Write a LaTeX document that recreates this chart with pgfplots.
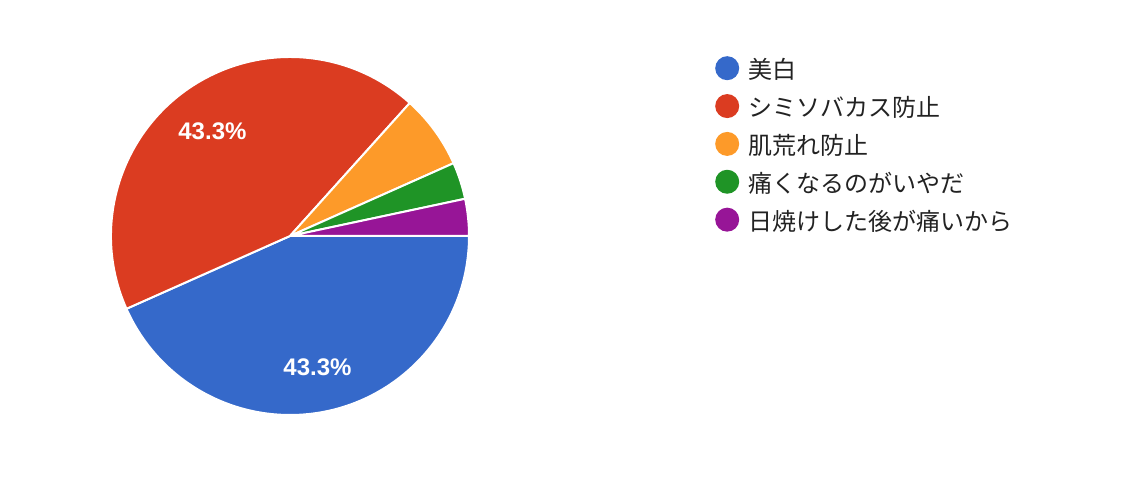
\documentclass[border=0pt]{standalone}
\usepackage{pgfplots}
\usepackage{pgfplotstable}
\pgfplotsset{compat=1.18}
\usetikzlibrary{calc}
\usepackage{fontspec}
\setmainfont{Liberation Sans}
\newfontfamily\jpfont{Noto Sans CJK JP}

\definecolor{pieblue}{HTML}{3569CA}
\definecolor{piered}{HTML}{DB3C21}
\definecolor{pieorange}{HTML}{FD9A29}
\definecolor{piegreen}{HTML}{1F9426}
\definecolor{piepurple}{HTML}{971597}
\definecolor{legtext}{HTML}{222222}

% answers (count of respondents), in drawing order, clockwise from 3 o'clock
\pgfplotstableread{
count color
13 pieblue
13 piered
2  pieorange
1  piegreen
1  piepurple
}\piedata

\begin{document}
\begin{tikzpicture}
\path[use as bounding box] (0,0) rectangle (1146pt,494pt);
\begin{axis}[
  at={(0,0)}, anchor=south west,
  scale only axis,
  width=1146pt, height=494pt,
  xmin=0, xmax=1146, ymin=0, ymax=494,
  hide axis,
  clip=false,
  /pgf/number format/assume math mode=true,
  legend image code/.code={\fill[#1, draw=none] (12pt,1pt) circle (12pt);},
  legend style={
    at={(axis cs:712,440)}, anchor=north west,
    draw=none, fill=none,
    font=\jpfont\fontsize{24}{28}\selectfont,
    text=legtext,
    row sep=12pt,
    nodes={inner xsep=0pt, inner ysep=2pt},
    column sep=9pt,
  },
  legend cell align=left,
]
\addlegendimage{fill=pieblue}
\addlegendentry{美白}
\addlegendimage{fill=piered}
\addlegendentry{シミソバカス防止}
\addlegendimage{fill=pieorange}
\addlegendentry{肌荒れ防止}
\addlegendimage{fill=piegreen}
\addlegendentry{痛くなるのがいやだ}
\addlegendimage{fill=piepurple}
\addlegendentry{日焼けした後が痛いから}

\pgfplotsextra{
  \pgfplotstablegetrowsof{\piedata}
  \pgfmathtruncatemacro\nlast{\pgfplotsretval-1}
  \gdef\pietotal{0}
  \foreach \i in {0,...,\nlast}{
    \pgfplotstablegetelem{\i}{count}\of\piedata
    \pgfmathsetmacro\tmp{\pietotal+\pgfplotsretval}
    \global\let\pietotal\tmp
  }
  \gdef\piecum{0}
  \foreach \i in {0,...,\nlast}{
    \pgfplotstablegetelem{\i}{count}\of\piedata
    \let\cnt\pgfplotsretval
    \pgfplotstablegetelem{\i}{color}\of\piedata
    \edef\col{\pgfplotsretval}
    \pgfmathsetmacro\angA{-360*\piecum/\pietotal}
    \pgfmathsetmacro\newcum{\piecum+\cnt}
    \pgfmathsetmacro\angB{-360*\newcum/\pietotal}
    \pgfmathsetmacro\angM{(\angA+\angB)/2}
    \pgfmathsetmacro\pct{100*\cnt/\pietotal}
    \fill[\col, draw=white, line width=2pt, line join=round]
      (axis cs:290,258) -- ++(\angA:179pt)
      arc[start angle=\angA, end angle=\angB, radius=179pt] -- cycle;
    \pgfmathparse{\cnt/\pietotal>0.1 ? 1 : 0}
    \ifnum\pgfmathresult=1
      \node[text=white, font=\bfseries\fontsize{24}{28}\selectfont, yshift=-2pt]
        at ($(axis cs:290,258)+(\angM:132pt)$)
        {\pgfmathprintnumber[fixed, fixed zerofill, precision=1]{\pct}\%};
    \fi
    \global\let\piecum\newcum
  }
}
\end{axis}
\end{tikzpicture}
\end{document}
